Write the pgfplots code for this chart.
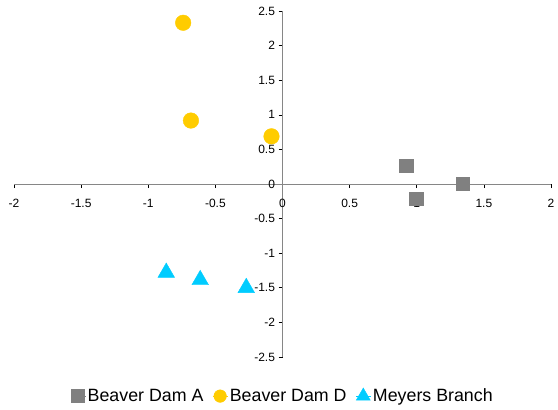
\documentclass[border=0pt]{standalone}
\usepackage{pgfplots}
\pgfplotsset{compat=1.18}
\usepackage{fontspec}
\setmainfont{Liberation Sans}
\definecolor{damA}{HTML}{808080}
\definecolor{damD}{HTML}{FFCC00}
\definecolor{meyers}{HTML}{00CCFF}
\definecolor{axisgray}{HTML}{868686}

\begin{document}
\begin{tikzpicture}
\useasboundingbox (0,0) rectangle (558pt,410pt);
\begin{axis}[
  at={(14pt,53pt)}, anchor=south west,
  scale only axis, width=537pt, height=346pt,
  axis lines=middle,
  xmin=-2, xmax=2, ymin=-2.5, ymax=2.5,
  xtick={-2,-1.5,...,2}, ytick={-2.5,-2,...,2.5},
  hide obscured x ticks=false, hide obscured y ticks=false,
  axis line style={axisgray, line width=0.9pt, -},
  tick style={black, line width=0.6pt},
  tick align=outside, major tick length=4pt,
  ticklabel style={font=\fontsize{12}{14}\selectfont},
  xticklabel style={yshift=-8pt},
  /pgf/number format/assume math mode=true,
  clip=false,
  legend columns=3,
  legend style={draw=none, fill=none, at={(0.5,-0.113)}, anchor=center,
    font=\fontsize{17.8}{21}\selectfont,
    nodes={inner sep=1.5pt},
    /tikz/every even column/.append style={column sep=8pt}},
  legend image code/.code={%
    \path (0pt,0pt) -- (15pt,0pt);
    \draw[#1] plot coordinates {(7pt,0pt)};},
]
\addplot[only marks, mark=square*, mark size=6.6pt, color=damA]
  coordinates {(0.922,0.265) (0.996,-0.209) (1.345,0.004)};
\addlegendentry{Beaver Dam A}
\addplot[only marks, mark=*, mark size=7.8pt, color=damD,
  legend image post style={mark size=6.3pt}]
  coordinates {(-0.740,2.33) (-0.682,0.917) (-0.082,0.689)};
\addlegendentry{Beaver Dam D}
\addplot[only marks, mark=triangle*, mark size=9.6pt, color=meyers,
  legend image post style={mark size=8.1pt}]
  coordinates {(-0.866,-1.28) (-0.613,-1.386) (-0.27,-1.50)};
\addlegendentry{Meyers Branch}
\end{axis}
\end{tikzpicture}
\end{document}
